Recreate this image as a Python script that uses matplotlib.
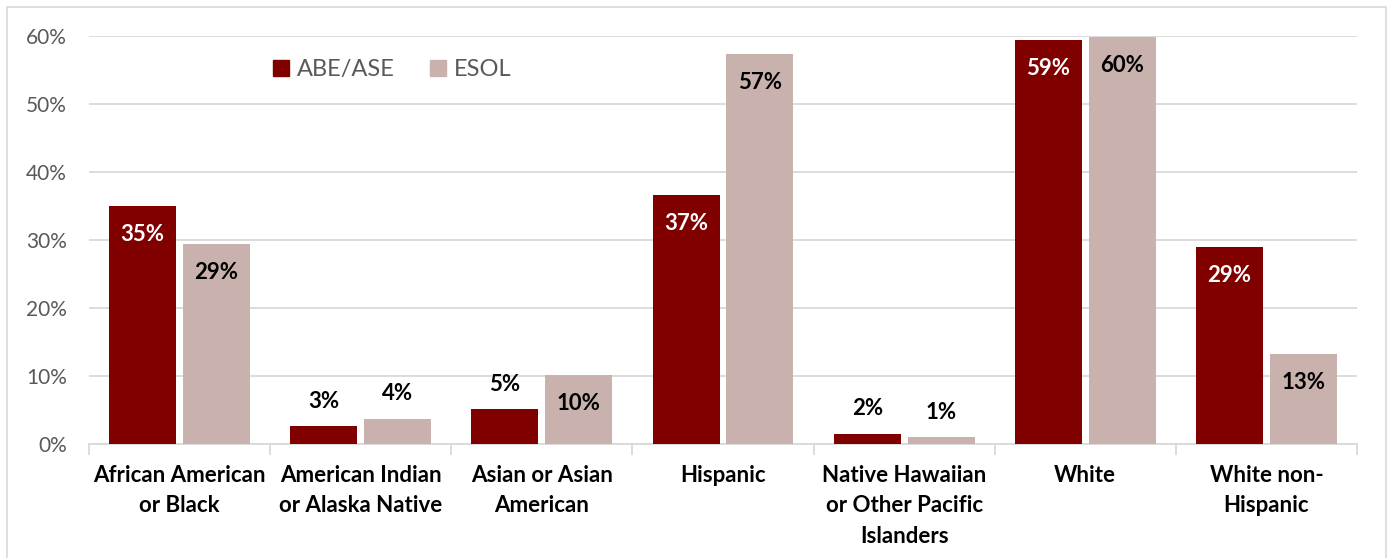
import matplotlib
matplotlib.use("Agg")
import matplotlib.pyplot as plt
import numpy as np
from matplotlib.patches import Rectangle, Patch

categories = ["African American\nor Black", "American Indian\nor Alaska Native",
              "Asian or Asian\nAmerican", "Hispanic",
              "Native Hawaiian\nor Other Pacific\nIslanders", "White",
              "White non-\nHispanic"]
abe_ase = [35.0, 2.6, 5.1, 36.6, 1.5, 59.4, 29.0]
esol = [29.4, 3.7, 10.2, 57.3, 1.0, 59.9, 13.2]
series_names = ["ABE/ASE", "ESOL"]
yticks = [0, 10, 20, 30, 40, 50, 60]

DARK = "#800000"
LIGHT = "#C9B1AD"
GRID = "#D9D9D9"
TICKC = "#595959"

plt.rcParams['font.family'] = ['Lato', 'DejaVu Sans']

fig = plt.figure(figsize=(13.93, 5.58), dpi=100)
ax = fig.add_axes([89/1393, 1-444/558, (1357-89)/1393, (444-36)/558])

# border
fig.patches.append(Rectangle((7/1393, -0.01), (1386-7)/1393, 1.01-7/558,
                             transform=fig.transFigure, fill=False,
                             edgecolor="#D9D9D9", linewidth=1.2))

x = np.arange(len(categories))
w = 0.37
off = 0.204
b1 = ax.bar(x - off, abe_ase, w, color=DARK, zorder=3)
b2 = ax.bar(x + off, esol, w, color=LIGHT, zorder=3)

ax.set_xlim(-0.5, len(categories) - 0.5)
ax.set_ylim(0, 60)
ax.set_yticks(yticks)
ax.set_yticklabels([f"{t}%" for t in yticks], color=TICKC, fontsize=15)
ax.yaxis.grid(True, color=GRID, linewidth=1.3, zorder=0)
ax.set_axisbelow(True)
ax.tick_params(axis='y', length=0, pad=16)

for s in ['top', 'right', 'left']:
    ax.spines[s].set_visible(False)
ax.spines['bottom'].set_color(GRID)
ax.spines['bottom'].set_linewidth(1.3)

ax.set_xticks(x)
ax.set_xticklabels(categories, fontsize=16, fontweight='bold', color='black',
                   linespacing=1.55)
ax.tick_params(axis='x', length=0, pad=15)
ax.set_xticks(np.arange(len(categories) + 1) - 0.5, minor=True)
ax.tick_params(axis='x', which='minor', length=8, color=GRID, width=1.3)

def label(bars, vals, inside_color):
    for b, v in zip(bars, vals):
        txt = f"{int(np.floor(v + 0.5))}%"
        cx = b.get_x() + b.get_width() / 2
        if v > 8:
            ax.annotate(txt, (cx, v), xytext=(0, -20.5), textcoords='offset points',
                        ha='center', va='center', fontsize=16, fontweight='bold',
                        color=inside_color, zorder=4)
        else:
            ax.annotate(txt, (cx, v), xytext=(0, 18), textcoords='offset points',
                        ha='center', va='center', fontsize=16, fontweight='bold',
                        color='black', zorder=4)

label(b1, abe_ase, 'white')
label(b2, esol, 'black')

handles = [Patch(color=DARK), Patch(color=LIGHT)]
leg = ax.legend(handles, series_names, loc='upper left', ncol=2, frameon=False,
                bbox_to_anchor=(264/1393, 1-50/558), bbox_transform=fig.transFigure,
                fontsize=17, handlelength=0.65, handleheight=0.65,
                handletextpad=0.35, columnspacing=1.5, borderaxespad=0)
for t in leg.get_texts():
    t.set_color(TICKC)

fig.savefig("out.png", dpi=100)
